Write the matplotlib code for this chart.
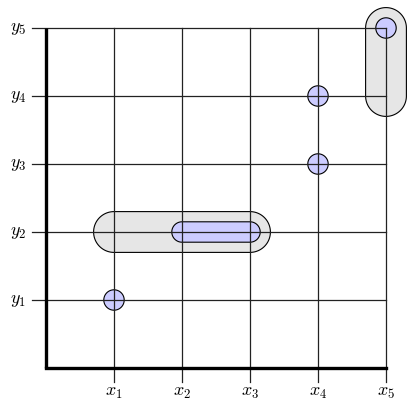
import numpy as np
import matplotlib.pyplot as plt
from matplotlib.patches import Polygon

plt.rcParams['mathtext.fontset'] = 'cm'

# grid positions and labels
x_ticks = [1, 2, 3, 4, 5]
y_ticks = [1, 2, 3, 4, 5]
x_labels = [r'$x_1$', r'$x_2$', r'$x_3$', r'$x_4$', r'$x_5$']
y_labels = [r'$y_1$', r'$y_2$', r'$y_3$', r'$y_4$', r'$y_5$']

# single highlighted points (x, y)
blue_points = [(1, 1), (4, 3), (4, 4), (5, 5)]
# blue segment: (x_start, y_start, x_end, y_end)
blue_segments = [(2, 2, 3, 2)]
# gray groups
gray_segments = [(1, 2, 3, 2), (5, 4, 5, 5)]

blue_r = 0.15
gray_r = 0.3

fig = plt.figure(figsize=(4.09, 4.03), dpi=100)
ax = fig.add_axes([0, 0, 1, 1])
ax.set_xlim(-46 / 68, 363 / 68)
ax.set_ylim(-35 / 68, 368 / 68)
ax.axis('off')


def pill(x0, y0, x1, y1, r, color):
    # stadium shape around the segment (x0,y0)-(x1,y1)
    ang = np.arctan2(y1 - y0, x1 - x0) if (x1 != x0 or y1 != y0) else 0.0
    t1 = np.linspace(ang - np.pi / 2, ang + np.pi / 2, 60)
    t0 = np.linspace(ang + np.pi / 2, ang + 3 * np.pi / 2, 60)
    pts = np.vstack([np.column_stack([x1 + r * np.cos(t1), y1 + r * np.sin(t1)]),
                     np.column_stack([x0 + r * np.cos(t0), y0 + r * np.sin(t0)])])
    ax.add_patch(Polygon(pts, closed=True, facecolor=color,
                         edgecolor='black', linewidth=0.8, zorder=1))


for s in gray_segments:
    pill(*s, gray_r, '#e6e6e6')
for s in blue_segments:
    pill(*s, blue_r, '#ccccff')
for (px, py) in blue_points:
    pill(px, py, px, py, blue_r, '#ccccff')

# grid lines (drawn over fills)
for xv in x_ticks:
    ax.plot([xv, xv], [-0.2, 5], color='#222222', lw=0.9, zorder=2)
for yv in y_ticks:
    ax.plot([-0.2, 5], [yv, yv], color='#222222', lw=0.9, zorder=2)

# axes
ax.plot([0, 0], [0, 5], color='black', lw=2.4, zorder=3, solid_capstyle='butt')
ax.plot([0, 5], [0, 0], color='black', lw=2.4, zorder=3, solid_capstyle='projecting')

for xv, lab in zip(x_ticks, x_labels):
    ax.text(xv, -0.36, lab, ha='center', va='center', fontsize=13)
for yv, lab in zip(y_ticks, y_labels):
    ax.text(-0.29, yv, lab, ha='right', va='center', fontsize=13)

fig.savefig('out.png', dpi=100)
